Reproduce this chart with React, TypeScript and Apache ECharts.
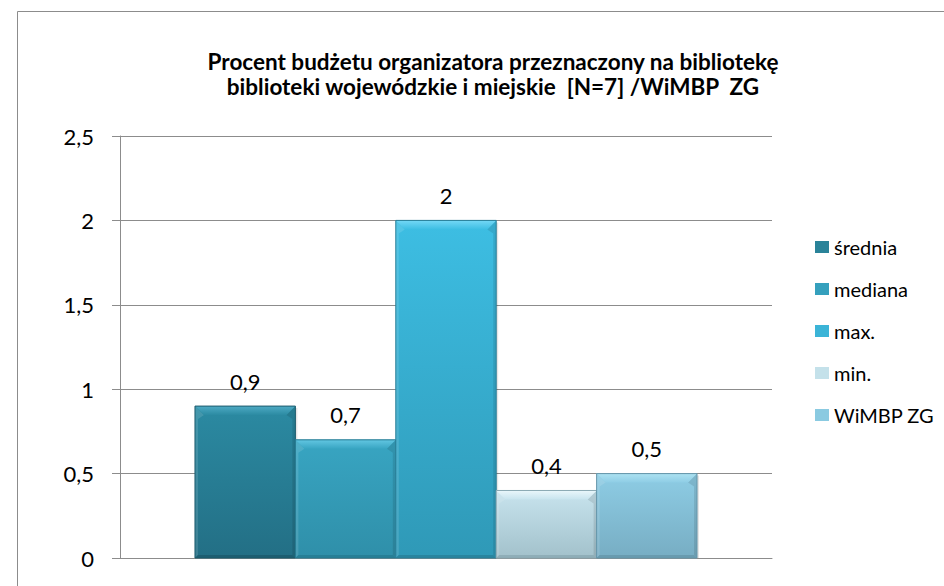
import React, { useEffect, useRef } from "react";
import * as echarts from "echarts";

const titleLines = [
  "Procent budżetu organizatora przeznaczony na bibliotekę",
  "biblioteki wojewódzkie i miejskie  [N=7] /WiMBP  ZG",
];
const seriesNames = ["średnia", "mediana", "max.", "min.", "WiMBP ZG"];
const seriesValues = [0.9, 0.7, 2, 0.4, 0.5];
const categories = [""];
const yTicks = [0, 0.5, 1, 1.5, 2, 2.5];

// [bevel top, body top, body bottom, dark edge, legend]
const palette = [
  ["#4eaac4", "#2b8aa2", "#236f85", "#1b5a6c", "#2a8399"],
  ["#62c6e2", "#38a5c2", "#2f8fa9", "#267a91", "#35a0bd"],
  ["#74d8f6", "#3dbee3", "#2f99b7", "#287f98", "#3bb4d7"],
  ["#eaf7fb", "#c8e4ee", "#a2c1cb", "#8aa9b3", "#c4e1ea"],
  ["#ade2f2", "#8ecde5", "#77adc3", "#6596aa", "#8acae1"],
];

const fmt = (v: number) => String(v).replace(".", ",");
const font = "Lato, 'Open Sans', sans-serif";
const GAP = 0.23;

export default function App() {
  const ref = useRef<HTMLDivElement>(null);
  useEffect(() => {
    const chart = echarts.init(ref.current!, null, { renderer: "svg" });
    const n = seriesNames.length;
    chart.setOption({
      animation: false,
      textStyle: { fontFamily: font },
      graphic: [
        {
          type: "rect",
          shape: { x: 17.5, y: 11.5, width: 1000, height: 1000 },
          style: { fill: "none", stroke: "#8c8c8c", lineWidth: 1 },
          silent: true,
        },
      ],
      title: {
        text: titleLines.join("\n"),
        left: 488,
        textAlign: "center",
        top: 44,
        textStyle: {
          fontFamily: font,
          fontSize: 22.5,
          fontWeight: "bold",
          color: "#000",
          lineHeight: 25,
        },
      },
      legend: {
        orient: "vertical",
        left: 810,
        top: 232,
        itemWidth: 14,
        itemHeight: 12,
        itemGap: 22,
        icon: "rect",
        data: seriesNames,
        textStyle: { fontFamily: font, fontSize: 20, color: "#000", padding: [0, 0, 0, 0] },
      },
      grid: { left: 120, right: 172, top: 136, bottom: 28, containLabel: false },
      xAxis: {
        type: "category",
        data: categories,
        axisLine: { show: true, lineStyle: { color: "#8c8c8c", width: 1 } },
        axisTick: { show: false },
        axisLabel: { show: false },
      },
      yAxis: {
        type: "value",
        min: 0,
        max: 2.5,
        interval: 0.5,
        axisLine: { show: true, lineStyle: { color: "#8c8c8c" } },
        axisTick: { show: true, length: 8, lineStyle: { color: "#8c8c8c" } },
        splitLine: { show: true, lineStyle: { color: "#8c8c8c" } },
        axisLabel: {
          margin: 26,
          fontSize: 22,
          color: "#000",
          fontFamily: font,
          formatter: (v: number) => (yTicks.includes(v) ? fmt(v) : ""),
        },
      },
      series: seriesNames.map((name, i) => ({
        name,
        type: "custom",
        data: [[0, seriesValues[i]]],
        encode: { x: 0, y: 1 },
        itemStyle: { color: palette[i][4] },
        renderItem: (params: any, api: any) => {
          const c = palette[i];
          const base = api.coord([api.value(0), 0]);
          const topPt = api.coord([api.value(0), api.value(1)]);
          const band = api.size([1, 0])[0];
          const total = band * (1 - GAP);
          const w = total / n;
          const l = base[0] - total / 2 + i * w;
          const r = l + w;
          const t = topPt[1];
          const b = base[1];
          const d = 9; // top bevel depth
          const s = 3; // side bevel width
          const bb = 3;
          return {
            type: "group",
            children: [
              {
                type: "rect",
                shape: { x: l + 2, y: t + 2, width: w, height: b - t - 2 },
                style: { fill: "rgba(0,0,0,0.10)" },
              },
              {
                type: "rect",
                shape: { x: l, y: t, width: w, height: b - t },
                style: {
                  fill: new echarts.graphic.LinearGradient(0, 0, 0, 1, [
                    { offset: 0, color: c[1] },
                    { offset: 1, color: c[2] },
                  ]),
                },
              },
              {
                type: "polygon",
                shape: { points: [[l, t], [l + d, t + d], [l + s, t + d + 4], [l + s, b - bb], [l, b]] },
                style: { fill: "rgba(255,255,255,0.12)" },
              },
              {
                type: "polygon",
                shape: { points: [[r, t], [r - d, t + d], [r - s, t + d + 4], [r - s, b - bb], [r, b]] },
                style: { fill: "rgba(0,0,0,0.10)" },
              },
              {
                type: "polygon",
                shape: { points: [[l, t], [r, t], [r - d, t + d], [l + d, t + d]] },
                style: {
                  fill: new echarts.graphic.LinearGradient(0, 0, 0, 1, [
                    { offset: 0, color: c[0] },
                    { offset: 1, color: c[1] },
                  ]),
                },
              },
              {
                type: "polygon",
                shape: { points: [[l, b], [l + s, b - bb], [r - s, b - bb], [r, b]] },
                style: { fill: c[3], opacity: 0.8 },
              },
              {
                type: "rect",
                shape: { x: l, y: t, width: w, height: b - t },
                style: { fill: "none", stroke: c[3], lineWidth: 1 },
              },
              {
                type: "text",
                x: (l + r) / 2,
                y: t - 14,
                style: {
                  text: fmt(api.value(1)),
                  align: "center",
                  verticalAlign: "bottom",
                  fontSize: 22,
                  fontFamily: font,
                  fill: "#000",
                },
              },
            ],
          };
        },
      })),
    });
    return () => chart.dispose();
  }, []);
  return (
    <div
      ref={ref}
      style={{ position: "fixed", left: 0, top: 0, width: 944, height: 586, background: "#fff" }}
    />
  );
}
